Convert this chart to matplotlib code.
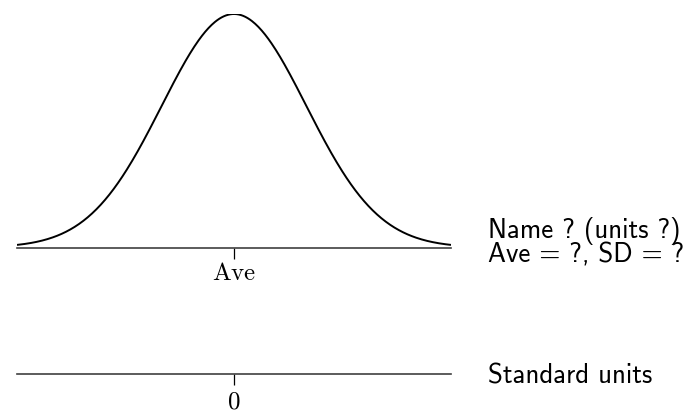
import os
import matplotlib
matplotlib.use('Agg')
import matplotlib.pyplot as plt
from matplotlib.font_manager import FontProperties
import numpy as np

plt.rcParams['mathtext.fontset'] = 'cm'

# standard normal curve drawn over +/- 3 SD
mean = 0.0
sd = 1.0
z_lo, z_hi = -3.0, 3.0
n_pts = 400

tick_pos = [0]
top_tick_labels = [r'$\mathrm{Ave}$']
bottom_tick_labels = [r'$0$']

name_line = 'Name ? (units ?)'
stats_line = 'Ave = ?, SD = ?'
std_label = 'Standard units'

z = np.linspace(z_lo, z_hi, n_pts)
dens = np.exp(-0.5 * ((z - mean) / sd) ** 2) / (sd * np.sqrt(2 * np.pi))

# Computer Modern sans shipped with matplotlib
cmss = FontProperties(fname=os.path.join(matplotlib.get_data_path(), 'fonts', 'ttf', 'cmss10.ttf'), size=19.4)

W, H = 683, 413
fig = plt.figure(figsize=(W / 100, H / 100), dpi=100)

left = 17 / W
width = 434 / W

# top axis: the curve sitting on the data scale
ax = fig.add_axes([left, (H - 247.5) / H, width, 233.5 / H])
ax.plot(z, dens, color='black', lw=1.4, solid_capstyle='butt')
ax.set_xlim(z_lo, z_hi)
ax.set_ylim(0, dens.max())
for s in ['top', 'left', 'right']:
    ax.spines[s].set_visible(False)
ax.spines['bottom'].set_color('0.25')
ax.spines['bottom'].set_linewidth(1.2)
ax.set_yticks([])
ax.set_xticks(tick_pos)
ax.set_xticklabels(top_tick_labels, fontsize=18)
ax.tick_params(axis='x', length=8, width=0.9, pad=2, color='black')
ax.patch.set_visible(False)

# bottom axis: standard units
ax2 = fig.add_axes([left, (H - 374) / H, width, 0.01])
ax2.set_xlim(z_lo, z_hi)
for s in ['top', 'left', 'right']:
    ax2.spines[s].set_visible(False)
ax2.spines['bottom'].set_color('0.25')
ax2.spines['bottom'].set_linewidth(1.2)
ax2.set_yticks([])
ax2.set_xticks(tick_pos)
ax2.set_xticklabels(bottom_tick_labels, fontsize=18)
ax2.tick_params(axis='x', length=8, width=0.9, pad=3, color='black')
ax2.patch.set_visible(False)

tx = 488 / W
fig.text(tx, (H - 231) / H, name_line, fontproperties=cmss, ha='left', va='center')
fig.text(tx, (H - 255) / H, stats_line, fontproperties=cmss, ha='left', va='center')
fig.text(tx, (H - 376) / H, std_label, fontproperties=cmss, ha='left', va='center')

fig.savefig('out.png', dpi=100)
